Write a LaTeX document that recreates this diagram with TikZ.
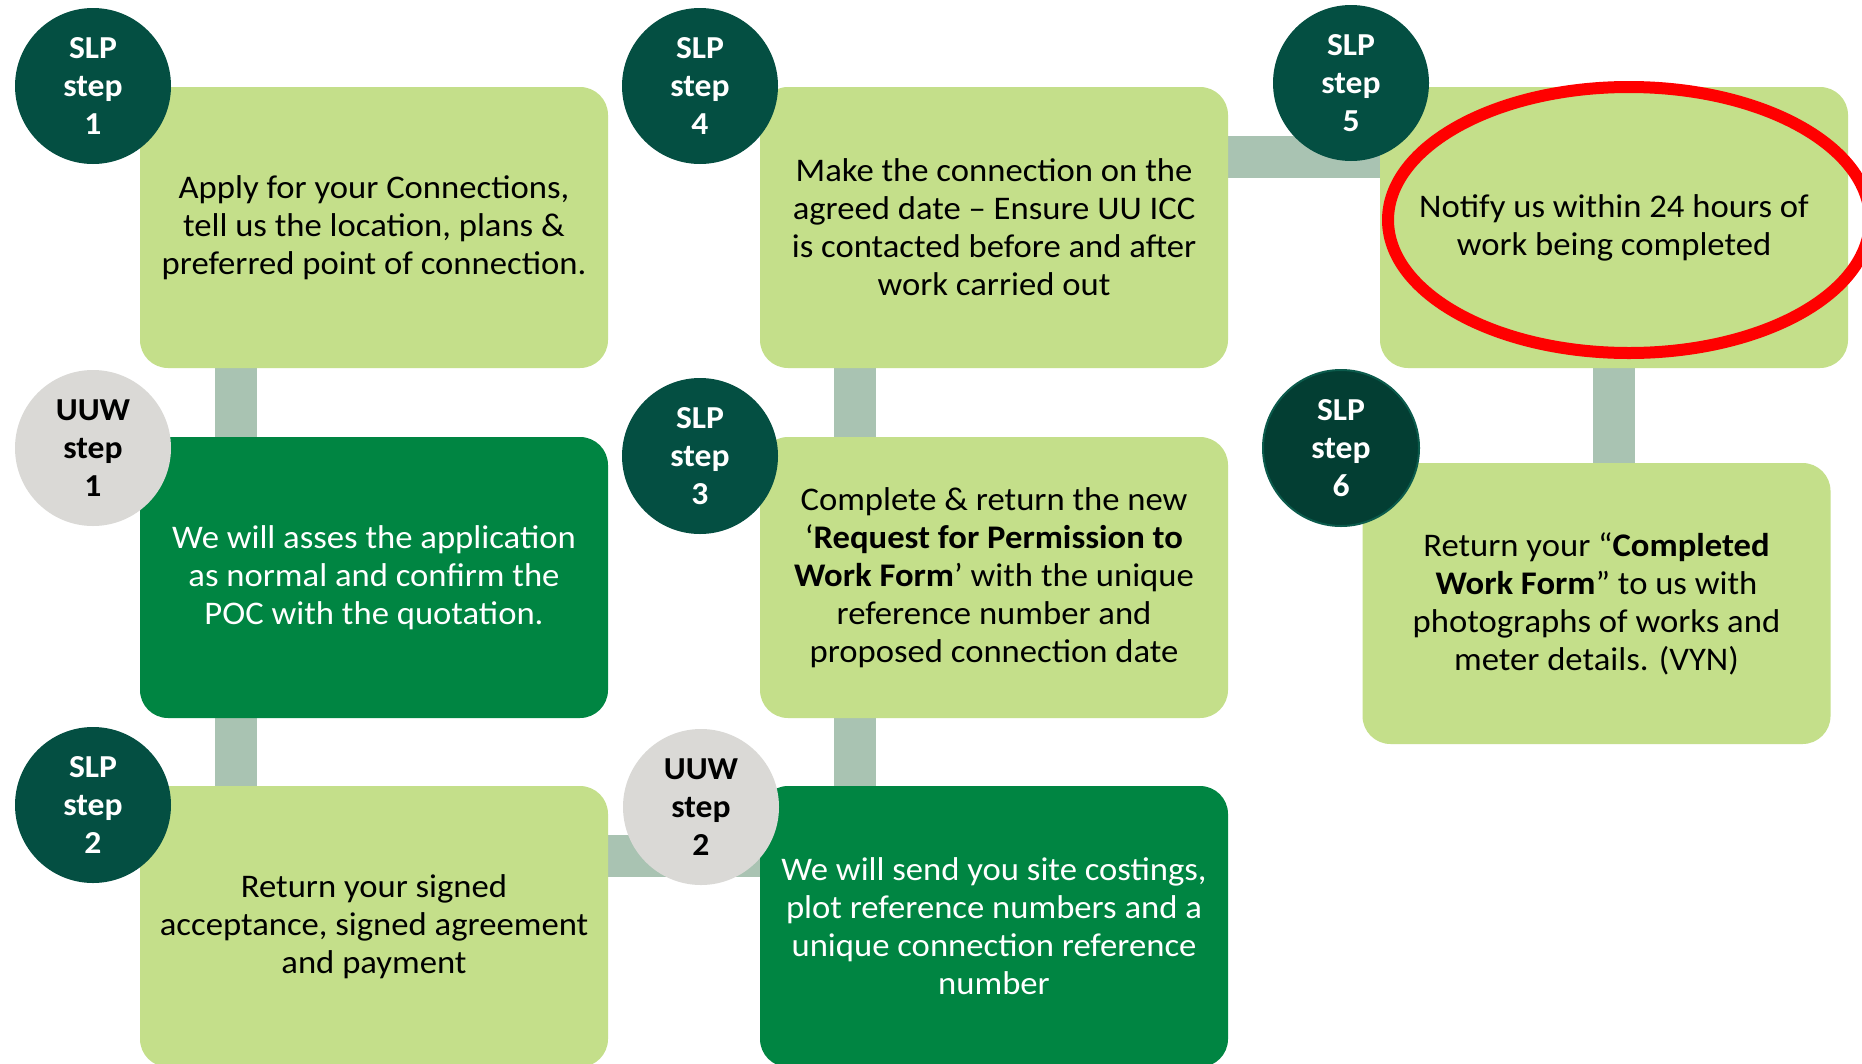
\documentclass[tikz,border=0pt]{standalone}
\usepackage{fontspec}
\setmainfont{Carlito}[FakeStretch=1.05]
\usetikzlibrary{calc,shapes.geometric,backgrounds}
\definecolor{lightg}{HTML}{C4DF8A}
\definecolor{darkg}{HTML}{008542}
\definecolor{slpc}{HTML}{044F42}
\definecolor{slpsix}{HTML}{033E33}
\definecolor{slpsixb}{HTML}{0B5B4C}
\definecolor{greyc}{HTML}{DAD9D6}
\definecolor{connc}{HTML}{A9C3B2}
\definecolor{ringc}{HTML}{FF0000}
\tikzset{
  box/.style={rectangle, rounded corners=28pt, minimum width=468pt, minimum height=281pt,
    inner sep=0pt, outer sep=0pt, align=center, font=\fontsize{33}{38}\selectfont},
  lbox/.style={box, fill=lightg, text=black},
  dbox/.style={box, fill=darkg, text=white},
  badge/.style={circle, minimum size=156pt, inner sep=0pt, outer sep=0pt, align=center,
    font=\fontsize{32}{38}\selectfont\bfseries},
  slp/.style={badge, fill=slpc, text=white},
  uuw/.style={badge, fill=greyc, text=black},
  conn/.style={draw=connc, line width=42pt},
  ring/.style={ellipse, draw=ringc, line width=12pt, minimum width=482pt, minimum height=266pt, inner sep=0pt, outer sep=0pt}
}
\begin{document}
\begin{tikzpicture}[x=1pt,y=-1pt]
\useasboundingbox (0,0) rectangle (1862,1063);
% boxes
\node[lbox] (A) at (374,227.5) {Apply for your Connections,\\tell us the location, plans \&\\preferred point of connection.};
\node[dbox] (B) at (374,577.5) {We will asses the application\\as normal and confirm the\\POC with the quotation.};
\node[lbox] (C) at (374,926.5) {Return your signed\\acceptance, signed agreement\\and payment};
\node[lbox] (D) at (994,227.5) {Make the connection on the\\agreed date – Ensure UU ICC\\is contacted before and after\\work carried out};
\node[lbox] (E) at (994,577.5) {Complete \& return the new\\‘\textbf{Request for Permission to}\\\textbf{Work Form}’ with the unique\\reference number and\\proposed connection date};
\node[dbox] (F) at (994,926.5) {We will send you site costings,\\plot reference numbers and a\\unique connection reference\\number};
\node[lbox] (G) at (1614,227.5) {Notify us within 24 hours of\\work being completed};
\node[lbox] (H) at (1596.5,603.5) {Return your “\textbf{Completed}\\\textbf{Work Form}” to us with\\photographs of works and\\meter details. (VYN)};
% badges
\node[slp] (s1) at (93,86) {SLP\\step\\1};
\node[uuw] (u1) at (93,448) {UUW\\step\\1};
\node[slp] (s2) at (93,805) {SLP\\step\\2};
\node[slp] (s4) at (700,86) {SLP\\step\\4};
\node[slp] (s3) at (700,456) {SLP\\step\\3};
\node[uuw] (u2) at (701,807) {UUW\\step\\2};
\node[slp] (s5) at (1351,83) {SLP\\step\\5};
\node[badge, fill=slpsix, draw=slpsixb, line width=2pt, text=white] (s6) at (1341,448) {SLP\\step\\6};
% connectors
\begin{pgfonlayer}{background}
\fill[white] (0,0) rectangle (1862,1063);
\draw[conn] ($(A.south west)+(96,0)$) -- ($(B.north west)+(96,0)$);
\draw[conn] ($(B.south west)+(96,0)$) -- ($(C.north west)+(96,0)$);
\draw[conn] ($(C.north east)+(0,70)$) -- ($(F.north west)+(0,70)$);
\draw[conn] ($(F.north west)+(95,0)$) -- ($(E.south west)+(95,0)$);
\draw[conn] ($(E.north west)+(95,0)$) -- ($(D.south west)+(95,0)$);
\draw[conn] ($(D.north east)+(0,70)$) -- ($(G.north west)+(0,70)$);
\draw[conn] (G.south) -- (G.south |- H.north);
\end{pgfonlayer}
% highlight
\node[ring] (rg) at (1629,220) {};
\end{tikzpicture}
\end{document}
